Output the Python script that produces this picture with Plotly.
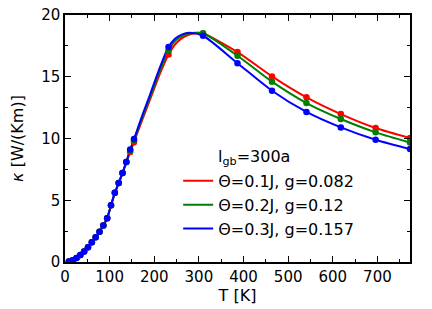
import plotly.graph_objects as go

# Low-temperature part (shared by the three curves)
T_low = [8.6, 17.2, 25.8, 34.4, 42.9, 51.5, 60.1, 68.7, 77.3, 85.9, 94.5, 103.1, 111.7, 120.3, 128.8, 137.4]
k_low = [0.05, 0.15, 0.33, 0.57, 0.85, 1.2, 1.6, 2.0, 2.45, 2.95, 3.55, 4.6, 5.6, 6.4, 7.2, 8.1]

# Marker temperatures at high T
T_high = [146.0, 154.6, 231.9, 309.2, 386.5, 463.8, 541.0, 618.0, 696.0, 773.0]
k_red_high = [8.9, 9.7, 16.8, 18.5, 17.0, 15.03, 13.33, 11.98, 10.85, 10.04]
k_green_high = [9.0, 9.85, 17.1, 18.52, 16.7, 14.6, 12.87, 11.58, 10.5, 9.68]
k_blue_high = [9.1, 9.95, 17.4, 18.32, 16.1, 13.87, 12.15, 10.9, 9.9, 9.15]

# Extra curve readings (line only, no markers)
T_extra_red = [172.0, 190.0, 210.0, 250.0, 270.0, 295.0]
k_extra_red = [11.4, 13.1, 15.0, 17.75, 18.3, 18.55]
T_extra_green = [172.0, 190.0, 210.0, 248.0, 268.0, 290.0]
k_extra_green = [11.6, 13.3, 15.25, 17.95, 18.4, 18.56]
T_extra_blue = [172.0, 190.0, 210.0, 247.0, 264.0, 284.0]
k_extra_blue = [11.75, 13.5, 15.5, 18.1, 18.45, 18.55]

names = ["Θ=0.1J, g=0.082", "Θ=0.2J, g=0.12", "Θ=0.3J, g=0.157"]
colors = ["#ff0000", "#008000", "#0000ff"]

series = [
    (k_red_high, T_extra_red, k_extra_red),
    (k_green_high, T_extra_green, k_extra_green),
    (k_blue_high, T_extra_blue, k_extra_blue),
]

fig = go.Figure()
for (kh, Te, ke), name, col in zip(series, names, colors):
    Tm = T_low + T_high
    km = k_low + kh
    pts = sorted(zip(Tm + Te, km + ke))
    fig.add_trace(go.Scatter(
        x=[p[0] for p in pts], y=[p[1] for p in pts], mode="lines",
        line=dict(color=col, width=2, shape="spline", smoothing=0.8),
        name=name, showlegend=True))
for (kh, Te, ke), name, col in zip(series, names, colors):
    fig.add_trace(go.Scatter(
        x=T_low + T_high, y=k_low + kh, mode="markers",
        marker=dict(color=col, size=6.5), showlegend=False, hoverinfo="skip"))

font = "DejaVu Sans"
fig.add_annotation(text="l<sub>gb</sub>=300a", xref="paper", yref="paper",
                   x=0.437, y=0.425, xanchor="left", yanchor="middle",
                   showarrow=False, font=dict(family=font, size=16, color="black"))

axis_common = dict(showline=True, linecolor="black", linewidth=1.5, mirror="allticks",
                   ticks="inside", ticklen=6, tickwidth=1.2, tickcolor="black",
                   showgrid=False, zeroline=False, automargin=False,
                   ticklabeloverflow="allow",
                   tickfont=dict(family=font, size=15, color="black"))

# The page body adds an 8px offset, so the figure is made 8px smaller
fig.update_layout(
    width=424, height=301,
    margin=dict(l=57, r=22, t=7, b=47),
    paper_bgcolor="white", plot_bgcolor="white",
    showlegend=True,
    legend=dict(x=0.328, y=0.397, xanchor="left", yanchor="top",
                bgcolor="rgba(0,0,0,0)", font=dict(family=font, size=16, color="black"),
                tracegroupgap=0, itemwidth=30),
    xaxis=dict(range=[0, 773], dtick=100, tick0=0,
               minor=dict(dtick=50, ticks="inside", ticklen=3, tickcolor="black"),
               title=dict(text="T [K]", font=dict(family=font, size=16, color="black"), standoff=4),
               **axis_common),
    yaxis=dict(range=[0, 20], dtick=5, tick0=0,
               minor=dict(dtick=2.5, ticks="inside", ticklen=3, tickcolor="black"),
               title=dict(text="<i>κ</i> [W/(Km)]", font=dict(family=font, size=16, color="black"), standoff=14),
               **axis_common),
)

fig.write_html("out.html")
